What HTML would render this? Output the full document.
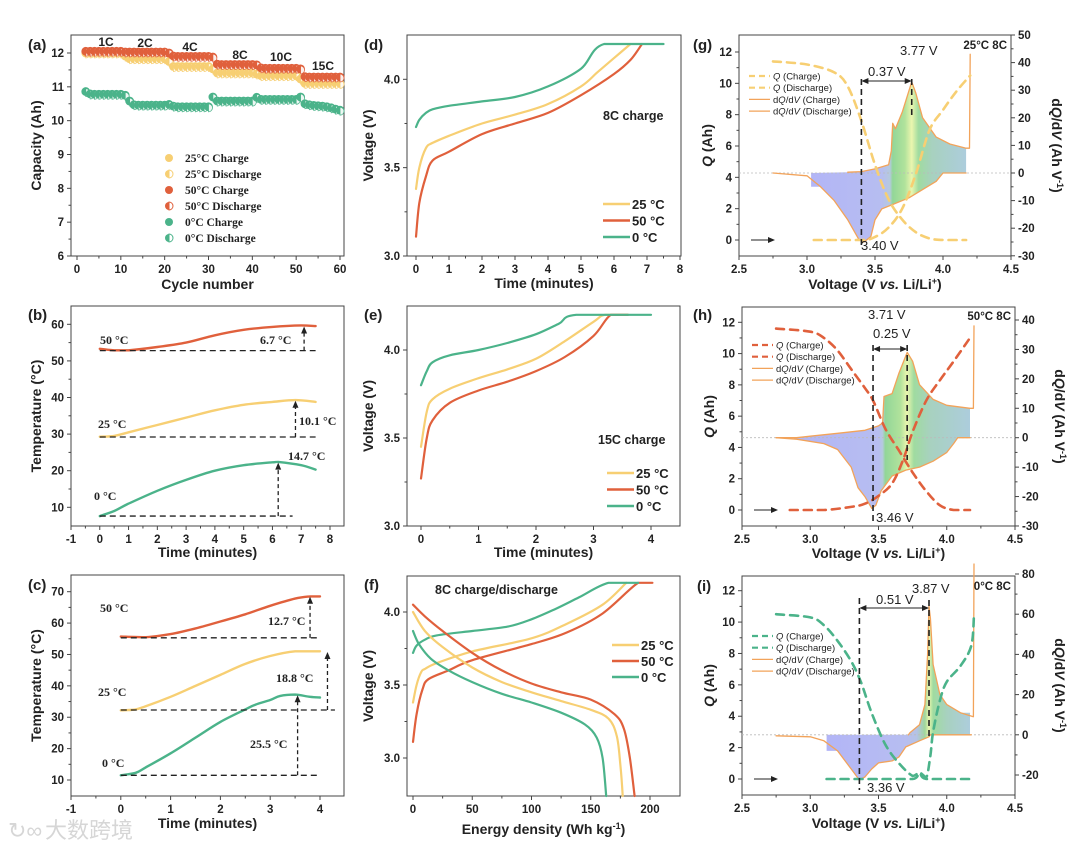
<!DOCTYPE html>
<html><head><meta charset="utf-8">
<style>
html,body{margin:0;padding:0;background:#fff;}
svg{display:block;font-family:"Liberation Sans",Arial,sans-serif;}
</style></head>
<body>
<svg id="fig" width="1080" height="850" viewBox="0 0 1080 850">
<text x="45" y="838" font-size="22" fill="#d6d6d6" font-family="'Liberation Sans','Noto Sans CJK SC',sans-serif">大数跨境</text>
<text x="8" y="838" font-size="22" fill="#d6d6d6">↻∞</text>
</svg>
<script>
// ---------- DATA ----------
// (a) capacity vs cycle
const aCycles=[2,3,4,5,6,7,8,9,10,11,12,13,14,15,16,17,18,19,20,21,22,23,24,25,26,27,28,29,30,31,32,33,34,35,36,37,38,39,40,41,42,43,44,45,46,47,48,49,50,51,52,53,54,55,56,57,58,59,60];
const a50=[12.02,12.02,12.02,12.02,12.02,12.02,12.02,12.02,12.02,12.0,12.0,12.0,12.0,12.0,12.0,12.0,12.0,12.0,12.0,11.97,11.88,11.87,11.87,11.87,11.87,11.87,11.87,11.87,11.87,11.85,11.64,11.63,11.63,11.63,11.63,11.63,11.63,11.63,11.63,11.62,11.53,11.52,11.52,11.52,11.52,11.52,11.52,11.52,11.52,11.5,11.27,11.26,11.26,11.26,11.26,11.26,11.26,11.26,11.26];
const a25=[11.97,11.97,11.97,11.97,11.97,11.97,11.97,11.97,11.97,11.88,11.8,11.8,11.8,11.8,11.8,11.8,11.8,11.8,11.8,11.72,11.57,11.57,11.57,11.57,11.57,11.57,11.57,11.57,11.57,11.5,11.38,11.38,11.38,11.38,11.38,11.38,11.38,11.38,11.38,11.35,11.3,11.3,11.3,11.3,11.3,11.3,11.3,11.3,11.3,11.2,11.07,11.07,11.07,11.07,11.07,11.07,11.07,11.07,11.07];
const a0=[10.83,10.76,10.75,10.75,10.75,10.75,10.75,10.75,10.75,10.72,10.55,10.44,10.43,10.43,10.43,10.43,10.43,10.43,10.43,10.45,10.4,10.38,10.38,10.38,10.38,10.38,10.38,10.38,10.38,10.67,10.55,10.55,10.55,10.55,10.55,10.55,10.55,10.55,10.55,10.66,10.6,10.6,10.6,10.6,10.6,10.6,10.6,10.6,10.6,10.67,10.47,10.44,10.42,10.41,10.4,10.38,10.35,10.31,10.28];
// (b) temperature 8C
const bT50=[0,0.5,1,2,3,4,5,6,7,7.5], bY50=[53.3,52.9,52.9,53.8,55,57,58.5,59.3,59.7,59.5];
const bT25=[0,0.5,1,2,3,4,5,6,6.8,7.5], bY25=[29.3,29.5,30.5,32.5,34.5,36.5,38,38.8,39.3,38.8];
const bT0=[0,0.5,1,2,3,4,5,6,6.2,7,7.5], bY0=[7.6,9,11,14.5,17.5,20,21.5,22.3,22.4,21.5,20.3];
// (c) temperature 15C
const cT50=[0,0.5,1,1.5,2,2.5,3,3.5,3.8,4], cY50=[55.7,55.5,56.5,58.3,60.5,62.8,65.5,67.8,68.5,68.5];
const cT25=[0,0.3,0.5,1,1.5,2,2.5,3,3.5,4], cY25=[32.2,32.5,33.5,36.5,40,43.5,47,49.5,51,51];
const cT0=[0,0.3,0.5,1,1.5,2,2.5,2.7,3,3.2,3.5,3.8,4], cY0=[11.5,12.3,14,18.5,23.5,28.5,32.5,34,35.5,36.8,37.2,36.5,36.3];
// (d) voltage 8C charge
const dT25=[0,0.1,0.3,0.5,1,2,3,4,5,5.5,6,6.5], dV25=[3.38,3.5,3.61,3.64,3.68,3.75,3.8,3.86,3.96,4.04,4.12,4.2];
const dT50=[0,0.1,0.3,0.5,1,2,3,4,5,6,6.5,6.85], dV50=[3.11,3.3,3.45,3.54,3.59,3.69,3.75,3.81,3.91,4.03,4.11,4.2];
const dT0=[0,0.1,0.3,0.5,1,2,3,4,5,5.7,7.5], dV0=[3.73,3.77,3.81,3.83,3.85,3.875,3.9,3.96,4.06,4.2,4.2];
// (e) voltage 15C charge
const eT25=[0,0.1,0.2,0.5,1,1.5,2,2.5,3,3.2,3.6], eV25=[3.45,3.65,3.72,3.78,3.84,3.89,3.95,4.05,4.16,4.2,4.2];
const eT50=[0,0.1,0.2,0.5,1,1.5,2,2.5,3,3.3,3.6], eV50=[3.27,3.5,3.6,3.7,3.77,3.82,3.88,3.96,4.08,4.2,4.2];
const eT0=[0,0.1,0.2,0.5,1,1.5,2,2.4,2.7,4.0], eV0=[3.8,3.88,3.93,3.97,4.0,4.04,4.09,4.15,4.2,4.2];
// (f) energy density
const fC25E=[0,3,7,10,20,50,100,130,160,180], fC25V=[3.38,3.5,3.59,3.61,3.65,3.73,3.82,3.92,4.05,4.2];
const fC50E=[0,3,8,13,30,50,100,130,160,190,202], fC50V=[3.11,3.3,3.47,3.54,3.6,3.67,3.78,3.86,3.99,4.2,4.2];
const fC0E=[0,3,10,20,50,80,100,120,140,165,190], fC0V=[3.72,3.77,3.81,3.84,3.87,3.9,3.95,4.02,4.1,4.2,4.2];
const fD25E=[0,10,25,50,75,100,125,150,165,172,175,177], fD25V=[4.0,3.87,3.76,3.62,3.52,3.45,3.39,3.33,3.27,3.15,2.95,2.74];
const fD50E=[0,10,25,50,75,100,125,150,170,178,183,187], fD50V=[4.05,3.97,3.87,3.72,3.6,3.51,3.45,3.4,3.3,3.2,3.0,2.74];
const fD0E=[0,5,15,30,50,75,100,125,145,155,160,163], fD0V=[3.87,3.78,3.68,3.6,3.52,3.44,3.38,3.31,3.23,3.14,3.0,2.74];
// (g) 25C dQ/dV
const gQdV=[2.75,3.0,3.2,3.3,3.4,3.5,3.6,3.7,3.8,3.9,4.0,4.17], gQd=[11.4,11.2,10.7,9.8,7.6,4.8,2.6,1.3,0.5,0.1,0,0];
const gQcV=[3.05,3.4,3.5,3.6,3.7,3.8,3.9,4.0,4.1,4.2], gQc=[0,0,0.2,0.8,2.0,4.2,7.0,8.3,9.5,10.5];
const gCV=[3.3,3.4,3.5,3.6,3.62,3.63,3.65,3.7,3.77,3.8,3.85,3.95,4.05,4.17,4.195,4.2], gC=[0.3,0.5,1.5,3,8,18,16,22,33,29,20,13,10.5,9,9,43];
const gDV=[2.75,3.0,3.1,3.2,3.3,3.38,3.42,3.47,3.5,3.55,3.65,3.75,3.85,3.95,4.0,4.17], gD=[0,-1,-5,-10,-17,-24,-25,-23,-17,-13,-11,-9,-6,-3,0,0];
// (h) 50C dQ/dV
const hQdV=[2.75,3.0,3.1,3.2,3.3,3.4,3.46,3.55,3.65,3.75,3.85,3.95,4.05,4.17], hQd=[11.6,11.4,11.0,10.2,9.0,7.8,7.0,5.2,3.8,2.4,1.2,0.3,0,0];
const hQcV=[2.85,3.1,3.3,3.4,3.5,3.6,3.68,3.75,3.85,3.95,4.05,4.17], hQc=[0,0,0.2,0.4,0.9,1.7,3.2,5.0,7.0,8.3,9.5,11.0];
const hCV=[2.75,2.9,3.0,3.2,3.4,3.5,3.53,3.54,3.6,3.65,3.71,3.75,3.8,3.9,4.0,4.17,4.195,4.2], hC=[0,0,0.5,1.5,2.5,4,5,14,15,22,29,26,18,13,11,10,10,38];
const hDV=[2.75,2.9,3.1,3.2,3.3,3.35,3.4,3.45,3.48,3.52,3.6,3.7,3.8,3.9,4.0,4.05,4.08,4.17], hD=[0,-0.5,-2,-4,-10,-17,-20,-24,-23,-18,-13,-11,-10,-8,-5,-2,0,0];
// (i) 0C dQ/dV
const iQdV=[2.75,3.0,3.1,3.2,3.3,3.37,3.45,3.55,3.65,3.75,3.8,3.85,4.18], iQd=[10.5,10.3,9.8,8.8,7.5,6.2,4.2,2.2,1.0,0.2,0.4,0,0];
const iQcV=[3.12,3.75,3.8,3.85,3.88,3.9,3.95,4.0,4.1,4.18,4.2], iQc=[0,0,0.4,0.1,1.5,3,5,6.2,7.2,8.5,10.5];
const iCV=[3.72,3.73,3.8,3.84,3.86,3.87,3.88,3.9,3.95,4.0,4.1,4.195,4.2], iC=[0,1,5,15,40,64,58,35,20,15,11,9,85];
const iDV=[2.75,3.0,3.1,3.2,3.3,3.36,3.4,3.45,3.5,3.6,3.65,3.7,3.8,3.87,3.88,4.18], iD=[-0.5,-1,-3,-8,-17,-22.5,-21,-17,-14,-13,-11,-6,-3,-1,0,0];

const Y25='#F7CF73', R50='#E0603C', G0='#4BB38A', OR='#F2A35A';
// ---------- HELPERS ----------
const svg=document.getElementById('fig');
const NS='http://www.w3.org/2000/svg';
function mk(tag,attrs,parent){const e=document.createElementNS(NS,tag);for(const k in attrs)e.setAttribute(k,attrs[k]);(parent||svg).appendChild(e);return e;}
function lin(d0,d1,p0,p1){return v=>p0+(v-d0)*(p1-p0)/(d1-d0);}
function txt(x,y,s,o,name){o=o||{};const e=mk('text',{x:x,y:y,'font-size':o.fs||11,'font-weight':o.fw||'bold','text-anchor':o.anchor||'start',fill:o.fill||'#222','font-family':o.ff||'"Liberation Sans",Arial,sans-serif'});
 if(o.rot)e.setAttribute('transform','rotate('+o.rot+' '+x+' '+y+')');
 e.innerHTML=s;
 
 
 return e;}
function seg(x1,y1,x2,y2,o,name){o=o||{};const e=mk('line',{x1:x1,y1:y1,x2:x2,y2:y2,stroke:o.c||'#222','stroke-width':o.w||1});
 if(o.dash)e.setAttribute('stroke-dasharray',o.dash);
 
 
 return e;}
function clampV(v,a,b){const lo=Math.min(a,b),hi=Math.max(a,b);return Math.max(lo,Math.min(hi,v));}
function path(xs,ys,X,Y,o,name){
 const P=xs.map((x,i)=>[X(x),Y(ys[i])]);
 let d='M'+P[0][0].toFixed(1)+','+P[0][1].toFixed(1);
 for(let i=0;i<P.length-1;i++){
  if(o.smooth){const p0=P[Math.max(i-1,0)],p1=P[i],p2=P[i+1],p3=P[Math.min(i+2,P.length-1)];const k=1/6;
   const c1x=clampV(p1[0]+(p2[0]-p0[0])*k,p1[0],p2[0]),c1y=clampV(p1[1]+(p2[1]-p0[1])*k,p1[1],p2[1]);
   const c2x=clampV(p2[0]-(p3[0]-p1[0])*k,p1[0],p2[0]),c2y=clampV(p2[1]-(p3[1]-p1[1])*k,p1[1],p2[1]);
   d+='C'+c1x.toFixed(1)+','+c1y.toFixed(1)+' '+c2x.toFixed(1)+','+c2y.toFixed(1)+' '+p2[0].toFixed(1)+','+p2[1].toFixed(1);}
  else d+='L'+P[i+1][0].toFixed(1)+','+P[i+1][1].toFixed(1);}
 const e=mk('path',{d:d,fill:'none',stroke:o.c,'stroke-width':o.w||2.2,'stroke-linejoin':'round','stroke-linecap':'round'});
 if(o.dash)e.setAttribute('stroke-dasharray',o.dash);
 
 
 return e;}
function arrowHead(x,y,dir,name){
 let p;if(dir==='up')p=[[x,y],[x-3,y+7],[x+3,y+7]];else if(dir==='right')p=[[x,y],[x-7,y-3],[x-7,y+3]];else p=[[x,y],[x+7,y-3],[x+7,y+3]];
 const e=mk('polygon',{points:p.map(q=>q.join(',')).join(' '),fill:'#222'});
 
 }
function axes(P){
 const [l,t,r,b]=P.frame;
 const f=mk('rect',{x:l,y:t,width:r-l,height:b-t,fill:'none',stroke:'#444','stroke-width':1});
 
 
 P.xt.forEach((v,i)=>{const x=P.X(v);seg(x,b,x,b+4,{c:'#444'},P.id+'-x-tick');txt(x,b+17,P.xl[i],{anchor:'middle',fs:11.5},P.id+'-x-tick-label');
  if(i<P.xt.length-1){const xm=P.X((v+P.xt[i+1])/2);seg(xm,b,xm,b+2.5,{c:'#444'},P.id+'-x-minor-tick');}});
 P.yt.forEach((v,i)=>{const y=P.Y(v);seg(l-4,y,l,y,{c:'#444'},P.id+'-y-tick');txt(l-7,y+4,P.yl[i],{anchor:'end',fs:11.5},P.id+'-y-tick-label');
  if(i<P.yt.length-1){const ym=P.Y((v+P.yt[i+1])/2);seg(l-2.5,ym,l,ym,{c:'#444'},P.id+'-y-minor-tick');}});
 if(P.yt2){P.yt2.forEach((v,i)=>{const y=P.Y2(v);seg(r,y,r+4,y,{c:'#444'},P.id+'-y2-tick');txt(r+7,y+4,P.yl2[i],{fs:11.5},P.id+'-y2-tick-label');
  if(i<P.yt2.length-1){const ym=P.Y2((v+P.yt2[i+1])/2);seg(r,ym,r+2.5,ym,{c:'#444'},P.id+'-y2-minor-tick');}});}
 txt((l+r)/2,P.xTitleY,P.xTitle,{anchor:'middle',fs:14},P.id+'-x-axis-title');
 txt(P.yTitleX,(t+b)/2,P.yTitle,{anchor:'middle',fs:14,rot:-90},P.id+'-y-axis-title');
 if(P.y2Title)txt(P.y2TitleX,(t+b)/2,P.y2Title,{anchor:'middle',fs:14,rot:90},P.id+'-y2-axis-title');
 txt(P.labX,P.labY,P.lab,{fs:15},P.id+'-panel-label');
}
const SM=true;
// ---------- PANEL (a) ----------
{const P={id:'a',frame:[71,35,344,256],X:lin(0,60,77,340),Y:lin(6,12,256,53),xt:[0,10,20,30,40,50,60],xl:['0','10','20','30','40','50','60'],yt:[6,7,8,9,10,11,12],yl:['6','7','8','9','10','11','12'],
 xTitle:'Cycle number',xTitleY:289,yTitle:'Capacity (Ah)',yTitleX:41,lab:'(a)',labX:28,labY:50};
 axes(P);
 const series=[[a25,Y25,'25c'],[a0,G0,'0c'],[a50,R50,'50c']];
 series.forEach(([arr,col,nm])=>{aCycles.forEach((c,i)=>{
  const m=mk('circle',{cx:P.X(c),cy:P.Y(arr[i]+0.03),r:4,fill:col,stroke:col,'stroke-width':0.8});
  
  
  const h=mk('path',{d:`M${P.X(c)},${P.Y(arr[i])-4}A4,4 0 0 1 ${P.X(c)},${P.Y(arr[i])+4}Z`,fill:'#fff',stroke:col,'stroke-width':0.8,opacity:0.9});
  
  
 });});
 [['1C',106,46],['2C',145,47],['4C',190,51],['8C',240,59],['10C',281,61],['15C',323,70]].forEach(r=>txt(r[1],r[2],r[0],{fs:12,anchor:'middle'},'rate-label'));
 const leg=[['25°C Charge',Y25,1],['25°C Discharge',Y25,0],['50°C Charge',R50,1],['50°C Discharge',R50,0],['0°C Charge',G0,1],['0°C Discharge',G0,0]];
 leg.forEach((e,i)=>{const y=158+i*16;const c=mk('circle',{cx:169,cy:y,r:4,fill:e[1]});
  
  
  if(!e[2]){const h=mk('path',{d:`M169,${y-4}A4,4 0 0 1 169,${y+4}Z`,fill:'#fff',stroke:e[1]});}
  txt(185,y+4,e[0],{fs:11.5,ff:'"Liberation Serif",serif'},'legend-entry');});
}
// ---------- PANEL (b) ----------
{const P={id:'b',frame:[71,306,344,526],X:lin(-1,8,71,330),Y:lin(10,60,507.3,324.3),xt:[-1,0,1,2,3,4,5,6,7,8],xl:['-1','0','1','2','3','4','5','6','7','8'],yt:[10,20,30,40,50,60],yl:['10','20','30','40','50','60'],
 xTitle:'Time (minutes)',xTitleY:557,yTitle:'Temperature (°C)',yTitleX:41,lab:'(b)',labX:28,labY:320};
 axes(P);
 path(bT50,bY50,P.X,P.Y,{c:R50,w:2.4,smooth:SM},'b-50c-line');path(bT25,bY25,P.X,P.Y,{c:Y25,w:2.4,smooth:SM},'b-25c-line');path(bT0,bY0,P.X,P.Y,{c:G0,w:2.4,smooth:SM},'b-0c-line');
 const D='6,4';
 seg(P.X(0),P.Y(52.8),P.X(7.5),P.Y(52.8),{dash:D,w:1.3},'b-baseline-50');
 seg(P.X(0),P.Y(29.2),P.X(7.5),P.Y(29.2),{dash:D,w:1.3},'b-baseline-25');
 seg(P.X(0),P.Y(7.6),P.X(6.7),P.Y(7.6),{dash:D,w:1.3},'b-baseline-0');
 [[7.1,52.8,59.4],[6.8,29.2,39.1],[6.2,7.6,22.2]].forEach(a=>{seg(P.X(a[0]),P.Y(a[1]),P.X(a[0]),P.Y(a[2])+6,{dash:'4,3',w:1.3},'b-rise-arrow');arrowHead(P.X(a[0]),P.Y(a[2]),'up');});
 const S={fs:12,ff:'"Liberation Serif",serif'};
 txt(100,344,'50 °C',S,'b-50c-label');txt(260,344,'6.7 °C',S,'b-delta-50');txt(98,428,'25 °C',S,'b-25c-label');txt(299,425,'10.1 °C',S,'b-delta-25');txt(288,460,'14.7 °C',S,'b-delta-0');txt(94,500,'0 °C',S,'b-0c-label');
}
// ---------- PANEL (c) ----------
{const P={id:'c',frame:[71,575,344,796],X:lin(-1,4,71,320),Y:lin(10,70,780,591.7),xt:[-1,0,1,2,3,4],xl:['-1','0','1','2','3','4'],yt:[10,20,30,40,50,60,70],yl:['10','20','30','40','50','60','70'],
 xTitle:'Time (minutes)',xTitleY:828,yTitle:'Temperature (°C)',yTitleX:41,lab:'(c)',labX:28,labY:590};
 axes(P);
 path(cT50,cY50,P.X,P.Y,{c:R50,w:2.4,smooth:SM},'c-50c-line');path(cT25,cY25,P.X,P.Y,{c:Y25,w:2.4,smooth:SM},'c-25c-line');path(cT0,cY0,P.X,P.Y,{c:G0,w:2.4,smooth:SM},'c-0c-line');
 const D='6,4';
 seg(P.X(0),P.Y(55.3),P.X(4.0),P.Y(55.3),{dash:D,w:1.3},'c-baseline-50');
 seg(P.X(0),P.Y(32.3),P.X(4.3),P.Y(32.3),{dash:D,w:1.3},'c-baseline-25');
 seg(P.X(0),P.Y(11.5),P.X(4.0),P.Y(11.5),{dash:D,w:1.3},'c-baseline-0');
 [[3.8,55.3,68.4],[4.15,32.3,50.8],[3.55,11.5,37.0]].forEach(a=>{seg(P.X(a[0]),P.Y(a[1]),P.X(a[0]),P.Y(a[2])+6,{dash:'4,3',w:1.3},'c-rise-arrow');arrowHead(P.X(a[0]),P.Y(a[2]),'up');});
 const S={fs:12,ff:'"Liberation Serif",serif'};
 txt(100,612,'50 °C',S,'c-50c-label');txt(268,625,'12.7 °C',S,'c-delta-50');txt(276,682,'18.8 °C',S,'c-delta-25');txt(98,696,'25 °C',S,'c-25c-label');txt(250,748,'25.5 °C',S,'c-delta-0');txt(102,767,'0 °C',S,'c-0c-label');
}
function vLegend(x,y0,dy,id){[['25 °C',Y25],['50 °C',R50],['0 °C',G0]].forEach((e,i)=>{const y=y0+i*dy;seg(x,y,x+27,y,{c:e[1],w:2.4},id+'-legend-line');txt(x+29,y+5,e[0],{fs:13},id+'-legend-entry');});}
// ---------- PANEL (d) ----------
{const P={id:'d',frame:[407,35,681,256],X:lin(0,8,416,680),Y:lin(3,4,256,79.3),xt:[0,1,2,3,4,5,6,7,8],xl:['0','1','2','3','4','5','6','7','8'],yt:[3,3.5,4],yl:['3.0','3.5','4.0'],
 xTitle:'Time (minutes)',xTitleY:288,yTitle:'Voltage (V)',yTitleX:373,lab:'(d)',labX:364,labY:50};
 axes(P);
 path(dT25,dV25,P.X,P.Y,{c:Y25,smooth:SM},'d-25c-line');path(dT50,dV50,P.X,P.Y,{c:R50,smooth:SM},'d-50c-line');path(dT0,dV0,P.X,P.Y,{c:G0,smooth:SM},'d-0c-line');
 txt(603,120,'8C charge',{fs:12.5},'d-annotation');vLegend(603,204,16.5,'d');
}
// ---------- PANEL (e) ----------
{const P={id:'e',frame:[407,306,680,526],X:lin(0,4,421,651),Y:lin(3,4,526,350),xt:[0,1,2,3,4],xl:['0','1','2','3','4'],yt:[3,3.5,4],yl:['3.0','3.5','4.0'],
 xTitle:'Time (minutes)',xTitleY:557,yTitle:'Voltage (V)',yTitleX:373,lab:'(e)',labX:364,labY:320};
 axes(P);
 path(eT25,eV25,P.X,P.Y,{c:Y25,smooth:SM},'e-25c-line');path(eT50,eV50,P.X,P.Y,{c:R50,smooth:SM},'e-50c-line');path(eT0,eV0,P.X,P.Y,{c:G0,smooth:SM},'e-0c-line');
 txt(598,444,'15C charge',{fs:12.5},'e-annotation');vLegend(607,473,16.5,'e');
}
// ---------- PANEL (f) ----------
{const P={id:'f',frame:[407,576,680,796],X:lin(0,200,413,650),Y:lin(3,4,758,612),xt:[0,50,100,150,200],xl:['0','50','100','150','200'],yt:[3,3.5,4],yl:['3.0','3.5','4.0'],
 xTitle:'Energy density (Wh kg<tspan baseline-shift="super" font-size="9">-1</tspan>)',xTitleY:834,yTitle:'Voltage (V)',yTitleX:373,lab:'(f)',labX:364,labY:590};
 axes(P);
 path(fC25E,fC25V,P.X,P.Y,{c:Y25,smooth:SM},'f-25c-charge');path(fC50E,fC50V,P.X,P.Y,{c:R50,smooth:SM},'f-50c-charge');path(fC0E,fC0V,P.X,P.Y,{c:G0,smooth:SM},'f-0c-charge');
 path(fD25E,fD25V,P.X,P.Y,{c:Y25,smooth:SM},'f-25c-discharge');path(fD50E,fD50V,P.X,P.Y,{c:R50,smooth:SM},'f-50c-discharge');path(fD0E,fD0V,P.X,P.Y,{c:G0,smooth:SM},'f-0c-discharge');
 txt(435,594,'8C charge/discharge',{fs:12.5},'f-annotation');vLegend(612,645,16,'f');
}
// ---------- dQ/dV panels ----------
function dqPanel(P,D){
 axes(P);
 const [l,t,r,b]=P.frame;
 const defs=mk('defs',{});
 const g=mk('linearGradient',{id:P.id+'grad',gradientUnits:'userSpaceOnUse',x1:P.X(D.fs),y1:0,x2:P.X(D.fe),y2:0},defs);
 D.stops.forEach(s=>mk('stop',{offset:((s[0]-D.fs)/(D.fe-D.fs)).toFixed(3),'stop-color':s[1]},g));
 let pts=[];
 const cv=[],dv=[];
 D.cV.forEach((v,i)=>{if(v>=D.fs&&v<=D.fe)cv.push([v,Math.max(D.c[i],0)]);});
 D.dV.forEach((v,i)=>{if(v>=D.fs&&v<=D.fe)dv.push([v,Math.min(D.d[i],0)]);});
 pts.push([D.fs,0]);cv.forEach(p=>pts.push(p));pts.push([D.fe,cv.length?cv[cv.length-1][1]:0]);pts.push([D.fe,0]);
 dv.slice().reverse().forEach(p=>pts.push(p));pts.push([D.fs,dv.length?dv[0][1]:0]);
 const fp=mk('polygon',{points:pts.map(p=>P.X(p[0]).toFixed(1)+','+P.Y2(p[1]).toFixed(1)).join(' '),fill:'url(#'+P.id+'grad)',opacity:0.85});
 
 
 seg(l,P.Y2(0),r,P.Y2(0),{c:'#bbb',w:0.8,dash:'2,2'},P.id+'-zero-line');
 path(D.cV,D.c,P.X,P.Y2,{c:OR,w:1.3},P.id+'-dqdv-charge');
 path(D.dV,D.d,P.X,P.Y2,{c:OR,w:1.3},P.id+'-dqdv-discharge');
 path(D.qdV,D.qd,P.X,P.Y,{c:D.col,w:2.6,dash:'8,6',smooth:SM},P.id+'-q-discharge');
 path(D.qcV,D.qc,P.X,P.Y,{c:D.col,w:2.6,dash:'8,6',smooth:SM},P.id+'-q-charge');
 seg(P.X(D.v1),D.vl1[0],P.X(D.v1),D.vl1[1],{dash:'6,4',w:1.6},P.id+'-peak-line-discharge');
 seg(P.X(D.v2),D.vl2[0],P.X(D.v2),D.vl2[1],{dash:'6,4',w:1.6},P.id+'-peak-line-charge');
 seg(P.X(D.v1)+6,D.ay,P.X(D.v2)-6,D.ay,{w:1},P.id+'-gap-arrow');arrowHead(P.X(D.v1),D.ay,'left');arrowHead(P.X(D.v2),D.ay,'right');
 txt(D.gapT[0],D.gapT[1],D.gapS,{fs:13,fw:'normal'},P.id+'-gap-label');
 txt(D.p2T[0],D.p2T[1],D.p2S,{fs:13,fw:'normal'},P.id+'-charge-peak-label');
 txt(D.p1T[0],D.p1T[1],D.p1S,{fs:13,fw:'normal'},P.id+'-discharge-peak-label');
 txt(r-4,D.tagY,D.tag,{fs:11.5,anchor:'end'},P.id+'-condition-label');
 seg(l+12,P.Y(0),l+30,P.Y(0),{w:1},P.id+'-direction-arrow');arrowHead(l+36,P.Y(0),'right');
 const L=[['<tspan font-style="italic">Q</tspan> (Charge)',1],['<tspan font-style="italic">Q</tspan> (Discharge)',1],['d<tspan font-style="italic">Q</tspan>/d<tspan font-style="italic">V</tspan> (Charge)',0],['d<tspan font-style="italic">Q</tspan>/d<tspan font-style="italic">V</tspan> (Discharge)',0]];
 L.forEach((e,i)=>{const y=D.legY+i*11.7;
  if(e[1])seg(l+10,y,l+31,y,{c:D.col,w:2.2,dash:'6,4'},P.id+'-legend-line');else seg(l+10,y,l+31,y,{c:OR,w:1.2},P.id+'-legend-line');
  txt(l+34,y+3.5,e[0],{fs:9.5,fw:'normal'},P.id+'-legend-entry');});
}
const VT=[2.5,3,3.5,4,4.5], VL=['2.5','3.0','3.5','4.0','4.5'];
const vTitle='Voltage (V <tspan font-style="italic">vs.</tspan> Li/Li<tspan baseline-shift="super" font-size="9">+</tspan>)';
const qTitle='<tspan font-style="italic">Q</tspan> (Ah)';
const dTitle='d<tspan font-style="italic">Q</tspan>/d<tspan font-style="italic">V</tspan> (Ah V<tspan baseline-shift="super" font-size="9">-1</tspan>)';
dqPanel({id:'g',frame:[739,35,1011,256],X:lin(2.5,4.5,739,1011),Y:lin(0,12,240,52),Y2:lin(0,50,173,35),xt:VT,xl:VL,yt:[0,2,4,6,8,10,12],yl:['0','2','4','6','8','10','12'],yt2:[-30,-20,-10,0,10,20,30,40,50],yl2:['-30','-20','-10','0','10','20','30','40','50'],
 xTitle:vTitle,xTitleY:289,yTitle:qTitle,yTitleX:712,y2Title:dTitle,y2TitleX:1052,lab:'(g)',labX:693,labY:50},
 {qdV:gQdV,qd:gQd,qcV:gQcV,qc:gQc,cV:gCV,c:gC,dV:gDV,d:gD,col:Y25,fs:3.03,fe:4.17,
  stops:[[3.03,'#a5a8f5'],[3.55,'#aab2ee'],[3.61,'#a8c0d8'],[3.63,'#7fcf86'],[3.72,'#a3dd8a'],[3.77,'#e7f4a0'],[3.82,'#8fd58f'],[3.92,'#98c9b4'],[4.17,'#9ec4d6']],
  v1:3.40,v2:3.77,vl1:[79,248],vl2:[79,115],ay:81,gapT:[868,76],gapS:'0.37 V',p2T:[900,55],p2S:'3.77 V',p1T:[861,250],p1S:'3.40 V',tag:'25°C 8C',tagY:49,legY:76});
dqPanel({id:'h',frame:[742,307,1015,526],X:lin(2.5,4.5,742,1015),Y:lin(0,12,510,322.3),Y2:lin(0,40,437.7,320),xt:VT,xl:VL,yt:[0,2,4,6,8,10,12],yl:['0','2','4','6','8','10','12'],yt2:[-30,-20,-10,0,10,20,30,40],yl2:['-30','-20','-10','0','10','20','30','40'],
 xTitle:vTitle,xTitleY:558,yTitle:qTitle,yTitleX:714,y2Title:dTitle,y2TitleX:1055,lab:'(h)',labX:693,labY:320},
 {qdV:hQdV,qd:hQd,qcV:hQcV,qc:hQc,cV:hCV,c:hC,dV:hDV,d:hD,col:R50,fs:2.88,fe:4.17,
  stops:[[2.88,'#a5a8f5'],[3.5,'#aab2ee'],[3.53,'#a8c0d8'],[3.55,'#7fcf86'],[3.66,'#a3dd8a'],[3.71,'#e7f4a0'],[3.76,'#8fd58f'],[3.88,'#98c9b4'],[4.17,'#9ec4d6']],
  v1:3.46,v2:3.71,vl1:[345,524],vl2:[345,460],ay:349,gapT:[873,338],gapS:'0.25 V',p2T:[868,319],p2S:'3.71 V',p1T:[876,522],p1S:'3.46 V',tag:'50°C 8C',tagY:320,legY:345});
dqPanel({id:'i',frame:[742,576,1015,795],X:lin(2.5,4.5,742,1015),Y:lin(0,12,779,590.7),Y2:lin(-20,80,775,574),xt:VT,xl:VL,yt:[0,2,4,6,8,10,12],yl:['0','2','4','6','8','10','12'],yt2:[-20,0,20,40,60,80],yl2:['-20','0','20','40','60','80'],
 xTitle:vTitle,xTitleY:828,yTitle:qTitle,yTitleX:714,y2Title:dTitle,y2TitleX:1055,lab:'(i)',labX:697,labY:591},
 {qdV:iQdV,qd:iQd,qcV:iQcV,qc:iQc,cV:iCV,c:iC,dV:iDV,d:iD,col:G0,fs:3.12,fe:4.17,
  stops:[[3.12,'#a5a8f5'],[3.7,'#aab2ee'],[3.78,'#a8b8e0'],[3.84,'#8fd08a'],[3.87,'#e7f4a0'],[3.9,'#8fd58f'],[4.0,'#98c9b4'],[4.17,'#9ec4d6']],
  v1:3.36,v2:3.87,vl1:[598,790],vl2:[600,740],ay:608,gapT:[876,604],gapS:'0.51 V',p2T:[912,593],p2S:'3.87 V',p1T:[867,792],p1S:'3.36 V',tag:'0°C 8C',tagY:590,legY:636});
</script>
</body></html>
